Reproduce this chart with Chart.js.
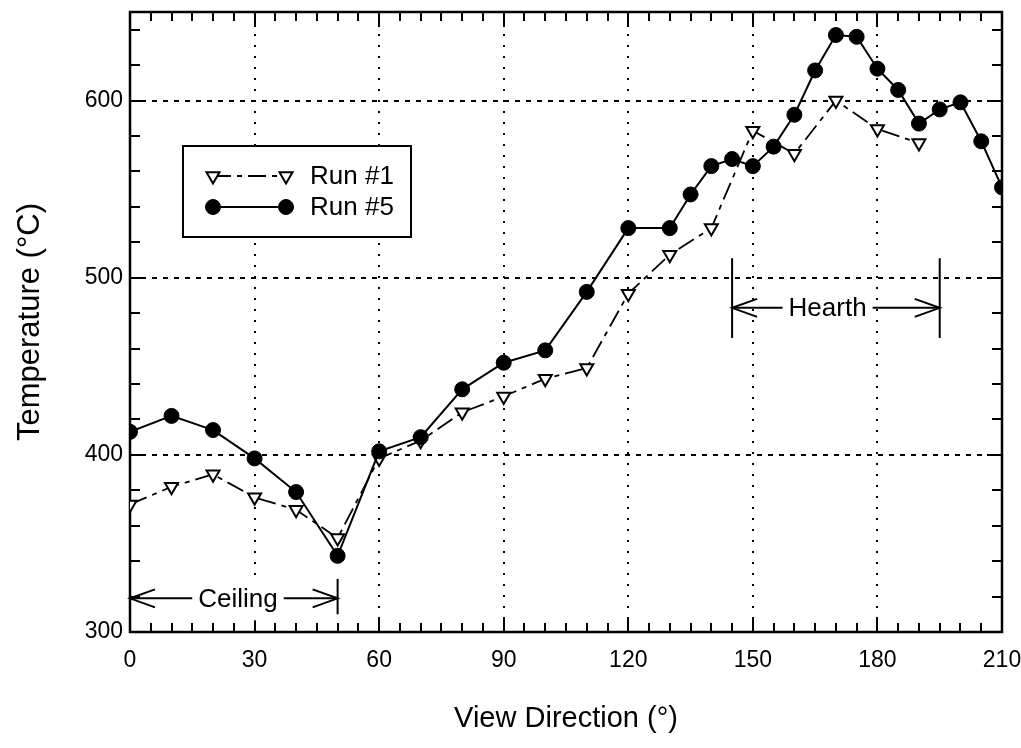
<!doctype html>
<html lang="en">
<head>
<meta charset="utf-8">
<title>Temperature vs View Direction</title>
<script src="https://cdn.jsdelivr.net/npm/chart.js@4"></script>
<style>
  html, body { margin: 0; background: #fff; }
  #wrap { width: 1021px; height: 748px; }
</style>
</head>
<body>
<div id="wrap"><canvas id="myChart"></canvas></div>
<script>
// view direction (deg) and temperature (C)
const run1Angles = [0, 10, 20, 30, 40, 50, 60, 70, 80, 90, 100, 110, 120, 130, 140, 150, 160, 170, 180, 190];
const run1Temps  = [372, 382, 389, 376, 369, 353, 398, 408, 424, 433, 443, 449, 491, 513, 528, 583, 570, 600, 584, 576];

const run5Angles = [0, 10, 20, 30, 40, 50, 60, 70, 80, 90, 100, 110, 120, 130, 135, 140, 145, 150, 155, 160, 165, 170, 175, 180, 185, 190, 195, 200, 205, 210];
const run5Temps  = [413, 422, 414, 398, 379, 343, 402, 410, 437, 452, 459, 492, 528, 528, 547, 563, 567, 563, 574, 592, 617, 637, 636, 618, 606, 587, 595, 599, 577, 551];

const xTicks = [0, 30, 60, 90, 120, 150, 180, 210];
const yTicks = [300, 400, 500, 600];

// the two labelled ranges, in data units
const ranges = [
  { label: 'Ceiling', from: 0, to: 50, textAt: 26, y: 319, bars: [50], barLow: 310, barHigh: 330 },
  { label: 'Hearth', from: 145, to: 195, textAt: 168, y: 483, bars: [145, 195], barLow: 466, barHigh: 511 }
];

const FONT = '"Liberation Sans", Arial, Helvetica, sans-serif';

function seg(ctx, x0, y0, x1, y1) {
  ctx.beginPath();
  ctx.moveTo(x0, y0);
  ctx.lineTo(x1, y1);
  ctx.stroke();
}

function head(ctx, x, y, dir) {
  // open chevron, dir = -1 points left, 1 points right
  ctx.beginPath();
  ctx.moveTo(x - dir * 25, y - 9);
  ctx.lineTo(x, y);
  ctx.lineTo(x - dir * 25, y + 9);
  ctx.stroke();
}

const framePlugin = {
  id: 'frame',
  beforeDatasetsDraw(chart) {
    const { ctx, chartArea: a, scales: { x, y } } = chart;
    ctx.save();
    ctx.strokeStyle = '#000';
    ctx.lineWidth = 2;
    // dotted grid
    ctx.setLineDash([2, 9]);
    xTicks.slice(1, -1).forEach(v => {
      const px = Math.round(x.getPixelForValue(v));
      seg(ctx, px, a.top, px, a.bottom);
    });
    ctx.setLineDash([5, 6]);
    yTicks.slice(1).forEach(v => {
      const py = Math.round(y.getPixelForValue(v));
      seg(ctx, a.left, py, a.right, py);
    });
    ctx.setLineDash([]);
    // inward ticks on all four sides
    for (let v = x.min; v <= x.max; v += 5) {
      const px = Math.round(x.getPixelForValue(v));
      const len = v % 30 === 0 ? 15 : 9;
      seg(ctx, px, a.bottom, px, a.bottom - len);
      seg(ctx, px, a.top, px, a.top + len);
    }
    for (let v = y.min; v <= y.max; v += 20) {
      const py = Math.round(y.getPixelForValue(v));
      const len = v % 100 === 0 ? 15 : 10;
      seg(ctx, a.left, py, a.left + len, py);
      seg(ctx, a.right, py, a.right - len, py);
    }
    ctx.lineWidth = 2.5;
    ctx.strokeRect(a.left, a.top, a.width, a.height);
    ctx.restore();
  },
  afterDatasetsDraw(chart) {
    const { ctx, chartArea: a, scales: { x, y } } = chart;
    ctx.save();
    ctx.strokeStyle = '#000';
    ctx.fillStyle = '#000';
    ctx.lineWidth = 2;
    ctx.font = '26px ' + FONT;
    ctx.textAlign = 'center';
    ctx.textBaseline = 'middle';

    // range annotations
    ranges.forEach(r => {
      const x0 = x.getPixelForValue(r.from);
      const x1 = x.getPixelForValue(r.to);
      const py = y.getPixelForValue(r.y);
      const tx = x.getPixelForValue(r.textAt);
      const w = ctx.measureText(r.label).width;
      ctx.fillStyle = '#fff';
      ctx.fillRect(tx - w / 2 - 4, py - 20, w + 8, 42);
      ctx.fillStyle = '#000';
      ctx.fillText(r.label, tx, py + 1);
      seg(ctx, x0, py, tx - w / 2 - 6, py);
      seg(ctx, tx + w / 2 + 6, py, x1, py);
      head(ctx, x0, py, -1);
      head(ctx, x1, py, 1);
      r.bars.forEach(b => {
        const bx = x.getPixelForValue(b);
        seg(ctx, bx, y.getPixelForValue(r.barLow), bx, y.getPixelForValue(r.barHigh));
      });
    });

    // legend box
    const lx = a.left + 53, ly = a.top + 134, lw = 228, lh = 91;
    ctx.fillStyle = '#fff';
    ctx.fillRect(lx, ly, lw, lh);
    ctx.strokeRect(lx, ly, lw, lh);
    ctx.textAlign = 'left';
    chart.data.datasets.forEach((ds, i) => {
      const ry = ly + 30 + i * 31;
      const sx0 = lx + 30, sx1 = lx + 103;
      ctx.strokeStyle = '#000';
      ctx.lineWidth = ds.borderWidth;
      ctx.setLineDash(ds.borderDash || []);
      seg(ctx, sx0, ry, sx1, ry);
      ctx.setLineDash([]);
      [sx0, sx1].forEach(mx => {
        ctx.fillStyle = ds.pointBackgroundColor;
        ctx.strokeStyle = ds.pointBorderColor;
        ctx.lineWidth = ds.pointBorderWidth;
        Chart.helpers.drawPoint(ctx, {
          pointStyle: ds.pointStyle,
          rotation: ds.pointRotation || 0,
          radius: ds.pointRadius,
          borderWidth: ds.pointBorderWidth
        }, mx, ry);
      });
      ctx.fillStyle = '#000';
      ctx.fillText(ds.label, lx + 127, ry + 1);
    });
    ctx.restore();
  }
};

const data = {
  datasets: [
    {
      label: 'Run #1',
      data: run1Angles.map((a, i) => ({ x: a, y: run1Temps[i] })),
      borderColor: '#000',
      borderWidth: 1.8,
      borderDash: [18, 6, 5, 6],
      pointStyle: 'triangle',
      pointRotation: 180,
      pointRadius: 7.5,
      pointBackgroundColor: '#fff',
      pointBorderColor: '#000',
      pointBorderWidth: 2,
      order: 1
    },
    {
      label: 'Run #5',
      data: run5Angles.map((a, i) => ({ x: a, y: run5Temps[i] })),
      borderColor: '#000',
      borderWidth: 2,
      pointStyle: 'circle',
      pointRadius: 7.5,
      pointBackgroundColor: '#000',
      pointBorderColor: '#000',
      pointBorderWidth: 1,
      order: 0
    }
  ]
};

new Chart(document.getElementById('myChart'), {
  type: 'line',
  data: data,
  options: {
    responsive: true,
    maintainAspectRatio: false,
    animation: false,
    layout: { padding: { top: 12, right: 19, left: 0, bottom: 0 } },
    elements: { line: { tension: 0, fill: false } },
    plugins: { legend: { display: false }, tooltip: { enabled: false } },
    scales: {
      x: {
        type: 'linear',
        min: 0,
        max: 210,
        afterBuildTicks: s => { s.ticks = xTicks.map(v => ({ value: v })); },
        afterFit: s => { s.height = 116; s.paddingLeft = 0; s.paddingRight = 0; },
        grid: { display: false, drawTicks: false },
        border: { display: false },
        ticks: { color: '#000', padding: 15, maxRotation: 0, autoSkip: false, font: { family: FONT, size: 23 } },
        title: { display: true, text: 'View Direction (°)', color: '#000', font: { family: FONT, size: 29 }, padding: { top: 0, bottom: 12 } }
      },
      y: {
        min: 300,
        max: 650,
        afterBuildTicks: s => { s.ticks = yTicks.map(v => ({ value: v })); },
        afterFit: s => { s.width = 130; s.paddingTop = 0; s.paddingBottom = 0; },
        grid: { display: false, drawTicks: false },
        border: { display: false },
        ticks: { color: '#000', padding: 7, font: { family: FONT, size: 23 } },
        title: { display: true, text: 'Temperature (°C)', color: '#000', font: { family: FONT, size: 31 }, padding: { top: 12, bottom: 0 } }
      }
    }
  },
  plugins: [framePlugin]
});
</script>
</body>
</html>
